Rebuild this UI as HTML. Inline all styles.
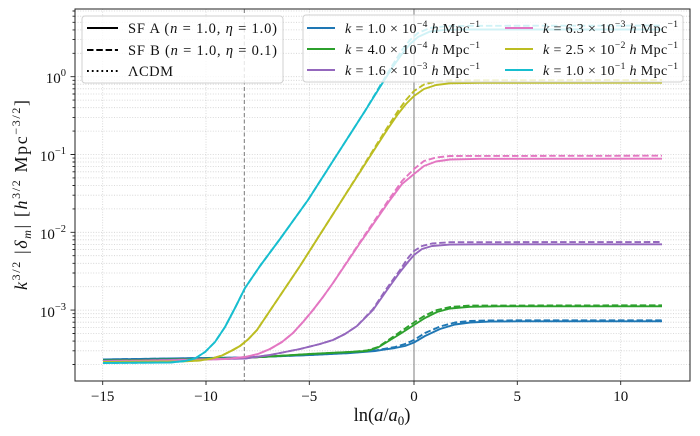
<!DOCTYPE html>
<html><head><meta charset="utf-8"><style>
html,body{margin:0;padding:0;background:#fff;}
svg{display:block;}
text{font-family:"Liberation Serif",serif;fill:#111;}
</style></head><body>
<svg width="700" height="436" viewBox="0 0 700 436" xmlns="http://www.w3.org/2000/svg">
<rect width="700" height="436" fill="#fff"/>
<!-- grid -->
<g stroke="#cfcfcf" stroke-width="0.8" stroke-dasharray="1,1.6" fill="none">
<path d="M102.7 9V381M206 9V381M309.3 9V381M517.3 9V381M620.7 9V381"/>
<path d="M75 76.7H690M75 53.3H690M75 39.6H690M75 29.9H690M75 22.3H690M75 16.2H690M75 11H690
M75 154.5H690M75 131.1H690M75 117.4H690M75 107.7H690M75 100.1H690M75 94H690M75 88.8H690M75 84.2H690M75 80.3H690
M75 232.3H690M75 208.9H690M75 195.2H690M75 185.5H690M75 177.9H690M75 171.8H690M75 166.6H690M75 162H690M75 158.1H690
M75 310.1H690M75 286.7H690M75 273H690M75 263.3H690M75 255.7H690M75 249.6H690M75 244.4H690M75 239.8H690M75 235.9H690
M75 364.5H690M75 350.8H690M75 341.1H690M75 333.5H690M75 327.4H690M75 322.2H690M75 317.6H690M75 313.7H690"/>
</g>
<!-- vertical reference lines -->
<line x1="244.3" y1="9" x2="244.3" y2="381" stroke="#777" stroke-width="1" stroke-dasharray="4,2.5"/>
<line x1="414" y1="9" x2="414" y2="381" stroke="#888" stroke-width="1.1"/>
<!-- curves -->
<g fill="none" stroke-width="1.9" stroke-linejoin="round" stroke-linecap="butt">
<!-- blue -->
<polyline stroke="#1f77b4" points="103,359.5 170,358.5 245,357.5 310,355 350,353 375,351 395,348 405,346 414,342.5 425,336 440,329 455,324.5 470,322.5 490,321.6 520,321.3 662,321.3"/>
<polyline stroke="#1f77b4" stroke-dasharray="6.5,2.8" points="103,359.5 170,358.5 245,357.5 310,355 350,353 375,350.5 395,347 405,344 414,340 425,333 440,326.5 455,322.5 470,321 490,320.4 662,320.3"/>
<!-- green -->
<polyline stroke="#2ca02c" points="103,360.5 170,359.5 245,358 310,354 350,352 367,351 378,347.5 387,342 400,334 414,325 425,318 437,312 450,308.5 470,306.8 500,306.3 662,306.3"/>
<polyline stroke="#2ca02c" stroke-dasharray="6.5,2.8" points="103,360.5 170,359.5 245,358 310,354 350,352 367,350.5 378,347 387,341 400,332 414,322.5 425,315.5 437,310 450,307 470,305.6 662,305.3"/>
<!-- purple -->
<polyline stroke="#9467bd" points="103,361 170,360 245,358.5 270,355 300,349 320,344 333,340 345,334 357,326 373,310 387,290 400,272 408,262 414,255 422,249 432,246 450,244.6 480,244.3 662,244.3"/>
<polyline stroke="#9467bd" stroke-dasharray="6.5,2.8" points="103,361 170,360 245,358.5 270,355 300,349 320,344 333,340 345,334 357,326 373,309 387,288 400,270 408,258 414,251 422,246 432,243.5 450,242.2 662,242"/>
<!-- pink -->
<polyline stroke="#e377c2" points="103,361.5 170,360.5 225,359 245,357 258,354 270,349 282,342 293,333 303,322 313,310 323,297 333,283 360,243 390,200 402,184 414,174 424,166 436,161.5 450,159.5 480,158.8 662,158.7"/>
<polyline stroke="#e377c2" stroke-dasharray="6.5,2.8" points="103,361.5 170,360.5 225,359 245,357 258,354 270,349 282,342 293,333 303,322 313,310 323,297 333,283 360,242 390,198 402,181 414,169 424,161 436,157.5 450,156 662,155.7"/>
<!-- olive -->
<polyline stroke="#bcbd22" points="103,362 180,361.5 200,360.5 212,358.5 222,355.5 232,350.5 240,346 248,339.5 257,330 300,266 342,200 387,130 398,114 406,104 414,96 424,89 436,85 450,83.3 480,82.8 662,82.7"/>
<polyline stroke="#bcbd22" stroke-dasharray="6.5,2.8" points="103,362 180,361.5 200,360.5 212,358.5 222,355.5 232,350.5 240,346 248,339.5 257,330 300,266 342,200 387,128 398,111 406,100 414,91 424,84.5 436,81.5 450,80.3 662,80"/>
<!-- cyan -->
<polyline stroke="#17becf" points="103,363 170,362.5 185,361 195,358.5 205,352 215,342 225,327 235,308 245,288 260,266 280,239 308,200 340,150 365,111 380,87 392,68 402,54 410,44 418,37 430,31.5 445,29.8 470,29.5 662,29.5"/>
<polyline stroke="#17becf" stroke-dasharray="6.5,2.8" points="103,363 170,362.5 185,361 195,358.5 205,352 215,342 225,327 235,308 245,288 260,266 280,239 308,200 340,150 365,111 380,86 392,66 402,50 410,40 418,33 430,28 445,26.3 470,25.8 662,25.6"/>
</g>
<!-- spines -->
<rect x="75" y="9" width="615" height="372" fill="none" stroke="#222" stroke-width="1"/>
<!-- ticks -->
<g stroke="#222" stroke-width="0.9">
<path d="M102.7 381v4M206 381v4M309.3 381v4M414 381v4M517.3 381v4M620.7 381v4"/>
<path d="M75 76.7h-4.5M75 154.5h-4.5M75 232.3h-4.5M75 310.1h-4.5"/>
<path d="M75 53.3h-2.5M75 39.6h-2.5M75 29.9h-2.5M75 22.3h-2.5M75 16.2h-2.5M75 11h-2.5
M75 131.1h-2.5M75 117.4h-2.5M75 107.7h-2.5M75 100.1h-2.5M75 94h-2.5M75 88.8h-2.5M75 84.2h-2.5M75 80.3h-2.5
M75 208.9h-2.5M75 195.2h-2.5M75 185.5h-2.5M75 177.9h-2.5M75 171.8h-2.5M75 166.6h-2.5M75 162h-2.5M75 158.1h-2.5
M75 286.7h-2.5M75 273h-2.5M75 263.3h-2.5M75 255.7h-2.5M75 249.6h-2.5M75 244.4h-2.5M75 239.8h-2.5M75 235.9h-2.5
M75 364.5h-2.5M75 350.8h-2.5M75 341.1h-2.5M75 333.5h-2.5M75 327.4h-2.5M75 322.2h-2.5M75 317.6h-2.5M75 313.7h-2.5"/>
</g>
<!-- x tick labels -->
<g font-size="15" text-anchor="middle">
<text x="102.7" y="401">−15</text>
<text x="206" y="401">−10</text>
<text x="309.3" y="401">−5</text>
<text x="414" y="401">0</text>
<text x="517.3" y="401">5</text>
<text x="620.7" y="401">10</text>
</g>
<!-- y tick labels -->
<g font-size="15" text-anchor="end">
<text x="66" y="83">10<tspan font-size="10.5" dy="-7">0</tspan></text>
<text x="66" y="161">10<tspan font-size="10.5" dy="-7">−1</tspan></text>
<text x="66" y="239">10<tspan font-size="10.5" dy="-7">−2</tspan></text>
<text x="66" y="317">10<tspan font-size="10.5" dy="-7">−3</tspan></text>
</g>
<!-- axis labels -->
<text x="382" y="421" font-size="18.5" text-anchor="middle">ln(<tspan font-style="italic">a</tspan>/<tspan font-style="italic">a</tspan><tspan font-size="13" dy="4">0</tspan><tspan dy="-4">)</tspan></text>
<text transform="translate(27,195) rotate(-90)" font-size="18" text-anchor="middle" textLength="190" lengthAdjust="spacing"><tspan font-style="italic">k</tspan><tspan font-size="12" dy="-7">3/2</tspan><tspan dy="7"> |</tspan><tspan font-style="italic">δ</tspan><tspan font-size="12" font-style="italic" dy="4">m</tspan><tspan dy="-4">| [</tspan><tspan font-style="italic">h</tspan><tspan font-size="12" dy="-7">3/2</tspan><tspan dy="7"> Mpc</tspan><tspan font-size="12" dy="-7">−3/2</tspan><tspan dy="7">]</tspan></text>
<!-- legend 1 -->
<rect x="82" y="16" width="201" height="67" rx="3" fill="rgba(255,255,255,0.8)" stroke="#d0d0d0" stroke-width="1"/>
<g stroke="#000" stroke-width="1.9" fill="none">
<line x1="87" y1="28" x2="118" y2="28"/>
<line x1="87" y1="50" x2="118" y2="50" stroke-dasharray="6.5,2.8"/>
<line x1="87" y1="71" x2="118" y2="71" stroke-dasharray="1.8,3"/>
</g>
<g font-size="14.5">
<text x="128" y="33" textLength="149" lengthAdjust="spacing">SF A (<tspan font-style="italic">n</tspan> = 1.0, <tspan font-style="italic">η</tspan> = 1.0)</text>
<text x="128" y="55" textLength="149" lengthAdjust="spacing">SF B (<tspan font-style="italic">n</tspan> = 1.0, <tspan font-style="italic">η</tspan> = 0.1)</text>
<text x="128" y="76" textLength="45" lengthAdjust="spacing">ΛCDM</text>
</g>
<!-- legend 2 -->
<rect x="303" y="15" width="380" height="67" rx="3" fill="rgba(255,255,255,0.8)" stroke="#d0d0d0" stroke-width="1"/>
<g stroke-width="1.9">
<line x1="307" y1="28" x2="335" y2="28" stroke="#1f77b4"/>
<line x1="307" y1="49" x2="335" y2="49" stroke="#2ca02c"/>
<line x1="307" y1="70" x2="335" y2="70" stroke="#9467bd"/>
<line x1="505" y1="28" x2="533" y2="28" stroke="#e377c2"/>
<line x1="505" y1="49" x2="533" y2="49" stroke="#bcbd22"/>
<line x1="505" y1="70" x2="533" y2="70" stroke="#17becf"/>
</g>
<g font-size="14">
<text x="345" y="33" textLength="135" lengthAdjust="spacing"><tspan font-style="italic">k</tspan> = 1.0 × 10<tspan font-size="9.5" dy="-6">−4</tspan><tspan dy="6"> </tspan><tspan font-style="italic">h</tspan> Mpc<tspan font-size="9.5" dy="-6">−1</tspan></text>
<text x="345" y="54" textLength="135" lengthAdjust="spacing"><tspan font-style="italic">k</tspan> = 4.0 × 10<tspan font-size="9.5" dy="-6">−4</tspan><tspan dy="6"> </tspan><tspan font-style="italic">h</tspan> Mpc<tspan font-size="9.5" dy="-6">−1</tspan></text>
<text x="345" y="75" textLength="135" lengthAdjust="spacing"><tspan font-style="italic">k</tspan> = 1.6 × 10<tspan font-size="9.5" dy="-6">−3</tspan><tspan dy="6"> </tspan><tspan font-style="italic">h</tspan> Mpc<tspan font-size="9.5" dy="-6">−1</tspan></text>
<text x="543" y="33" textLength="135" lengthAdjust="spacing"><tspan font-style="italic">k</tspan> = 6.3 × 10<tspan font-size="9.5" dy="-6">−3</tspan><tspan dy="6"> </tspan><tspan font-style="italic">h</tspan> Mpc<tspan font-size="9.5" dy="-6">−1</tspan></text>
<text x="543" y="54" textLength="135" lengthAdjust="spacing"><tspan font-style="italic">k</tspan> = 2.5 × 10<tspan font-size="9.5" dy="-6">−2</tspan><tspan dy="6"> </tspan><tspan font-style="italic">h</tspan> Mpc<tspan font-size="9.5" dy="-6">−1</tspan></text>
<text x="543" y="75" textLength="135" lengthAdjust="spacing"><tspan font-style="italic">k</tspan> = 1.0 × 10<tspan font-size="9.5" dy="-6">−1</tspan><tspan dy="6"> </tspan><tspan font-style="italic">h</tspan> Mpc<tspan font-size="9.5" dy="-6">−1</tspan></text>
</g>
</svg>
</body></html>
